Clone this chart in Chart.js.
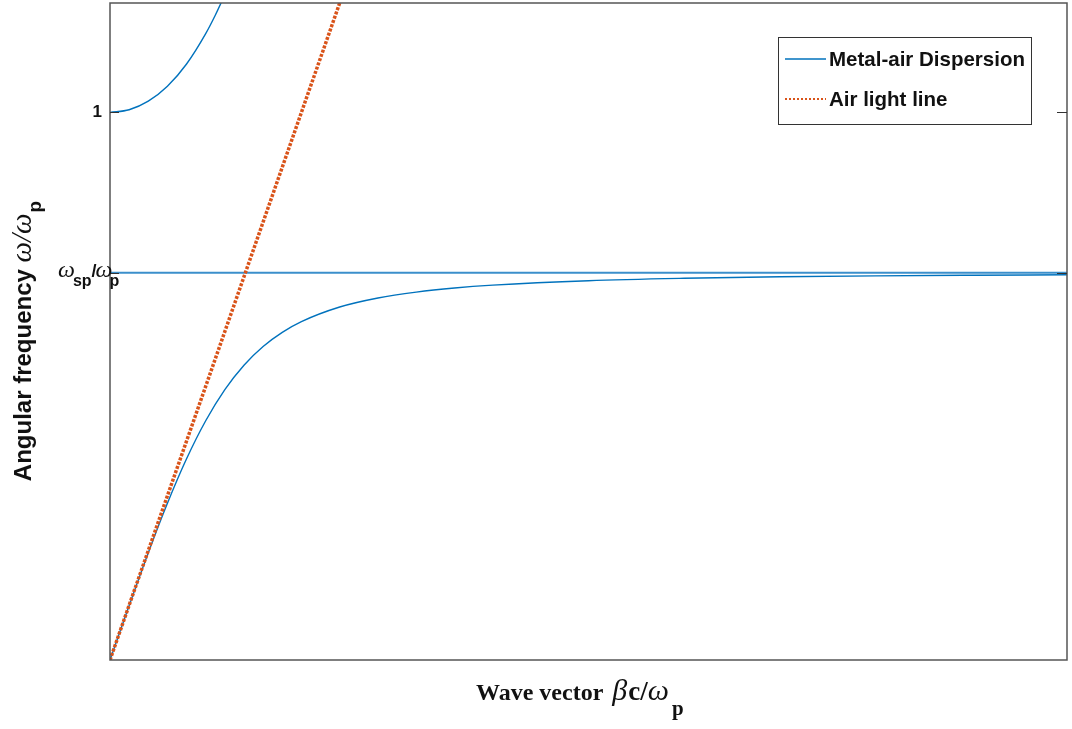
<!DOCTYPE html>
<html lang="en">
<head>
    <meta charset="UTF-8">
    <title>Metal-air surface plasmon dispersion</title>
    <script src="https://cdn.jsdelivr.net/npm/chart.js"></script>
    <style>
        html, body { margin: 0; padding: 0; background: #fff; }
        canvas { display: block; }
    </style>
</head>
<body>
    <canvas id="dispChart" width="1072" height="729"></canvas>
    <script>
        // wave vector (beta c / omega_p) and frequency (omega / omega_p)
        const lowerBeta = [0, 0.1, 0.2, 0.3, 0.4, 0.5, 0.6, 0.7, 0.8, 0.9, 1.0, 1.2, 1.4, 1.6, 1.8, 2.0, 2.5, 3.0, 3.5, 4.0, 4.5, 5.0];
        const lowerOmega = [0, 0.0995, 0.196, 0.2863, 0.3675, 0.437, 0.4939, 0.5385, 0.5726, 0.5984, 0.618, 0.6447, 0.6612, 0.672, 0.6795, 0.6847, 0.6928, 0.6972, 0.6999, 0.7016, 0.7027, 0.7036];
        const upperBeta = [0, 0.1, 0.2, 0.3, 0.4, 0.5, 0.55, 0.6];
        const upperOmega = [1.0, 1.005, 1.0206, 1.0479, 1.0886, 1.1441, 1.1777, 1.215];
        const spBeta = [0, 5];
        const spOmega = [0.7071, 0.7071];
        const lightBeta = [0, 1.2];
        const lightOmega = [0, 1.2];

        const yTicks = [0.7071, 1];
        const legendLabels = ['Metal-air Dispersion', 'Air light line'];

        const BLUE = '#0072BD';
        const ORANGE = '#D95319';
        const pts = (xs, ys) => xs.map((x, i) => ({ x: x, y: ys[i] }));

        // draws a row of text pieces with their own fonts and vertical offsets
        function richText(ctx, x, y, parts) {
            let cx = x;
            parts.forEach(p => {
                ctx.font = p.font;
                ctx.fillText(p.t, cx, y + (p.dy || 0));
                cx += ctx.measureText(p.t).width + (p.gap || 0);
            });
            return cx;
        }
        function richWidth(ctx, parts) {
            let w = 0;
            parts.forEach(p => { ctx.font = p.font; w += ctx.measureText(p.t).width + (p.gap || 0); });
            return w;
        }

        const decor = {
            id: 'decor',
            afterDatasetsDraw(chart) {
                const ctx = chart.ctx;
                const a = chart.chartArea;
                const ys = chart.scales.y;
                ctx.save();

                // frame
                ctx.strokeStyle = '#555';
                ctx.lineWidth = 1.5;
                ctx.strokeRect(a.left, a.top, a.right - a.left, a.bottom - a.top);

                // tick marks
                ctx.lineWidth = 1;
                ctx.strokeStyle = '#333';
                yTicks.forEach(v => {
                    const py = Math.round(ys.getPixelForValue(v)) + 0.5;
                    ctx.beginPath();
                    ctx.moveTo(a.left, py); ctx.lineTo(a.left + 9, py);
                    ctx.moveTo(a.right - 10, py); ctx.lineTo(a.right, py);
                    ctx.stroke();
                });

                // tick labels
                ctx.fillStyle = '#111';
                ctx.textBaseline = 'middle';
                ctx.textAlign = 'right';
                ctx.font = 'bold 17px "Liberation Sans", Arial, sans-serif';
                ctx.fillText('1', a.left - 8, ys.getPixelForValue(1));
                ctx.textAlign = 'left';
                const spY = ys.getPixelForValue(yTicks[0]);
                richText(ctx, 58, spY - 2, [
                    { t: 'ω', font: 'italic 24px "Liberation Serif", serif', gap: -2 },
                    { t: 'sp', font: 'bold 16px "Liberation Sans", sans-serif', dy: 11 },
                    { t: '/', font: 'bold 18px "Liberation Sans", sans-serif', dy: 1, gap: -1 },
                    { t: 'ω', font: 'italic 24px "Liberation Serif", serif', gap: -3 },
                    { t: 'p', font: 'bold 16px "Liberation Sans", sans-serif', dy: 11 }
                ]);

                // x axis title
                ctx.textBaseline = 'alphabetic';
                const xParts = [
                    { t: 'Wave vector ', font: 'bold 24px "Liberation Serif", serif', gap: 3 },
                    { t: 'β', font: 'italic 30px "Liberation Serif", serif', gap: 1 },
                    { t: 'c/', font: 'bold 27px "Liberation Serif", serif' },
                    { t: 'ω', font: 'italic 30px "Liberation Serif", serif', gap: 3 },
                    { t: 'p', font: 'bold 21px "Liberation Serif", serif', dy: 15 }
                ];
                richText(ctx, 476, 700, xParts);

                // y axis title
                const yParts = [
                    { t: 'Angular frequency ', font: 'bold 24px "Liberation Sans", Arial, sans-serif' },
                    { t: 'ω/ω', font: 'italic 29px "Liberation Serif", serif', gap: 1 },
                    { t: 'p', font: 'bold 19px "Liberation Sans", sans-serif', dy: 10 }
                ];
                const yw = richWidth(ctx, yParts);
                ctx.save();
                ctx.translate(31, 341);
                ctx.rotate(-Math.PI / 2);
                richText(ctx, -yw / 2, 0, yParts);
                ctx.restore();

                // legend
                ctx.fillStyle = '#fff';
                ctx.fillRect(778, 37, 253, 87);
                ctx.strokeStyle = '#333';
                ctx.lineWidth = 1;
                ctx.strokeRect(778.5, 37.5, 253, 87);
                ctx.textBaseline = 'middle';
                ctx.font = 'bold 20.5px "Liberation Sans", Arial, sans-serif';
                ctx.fillStyle = '#111';

                ctx.strokeStyle = BLUE;
                ctx.lineWidth = 1.3;
                ctx.beginPath(); ctx.moveTo(785, 59); ctx.lineTo(826, 59); ctx.stroke();
                ctx.fillText(legendLabels[0], 829, 60);

                ctx.strokeStyle = ORANGE;
                ctx.lineWidth = 2;
                ctx.setLineDash([2, 2]);
                ctx.beginPath(); ctx.moveTo(785, 99); ctx.lineTo(826, 99); ctx.stroke();
                ctx.setLineDash([]);
                ctx.fillText(legendLabels[1], 829, 100);

                ctx.restore();
            }
        };

        new Chart(document.getElementById('dispChart'), {
            type: 'line',
            data: {
                datasets: [
                    {
                        label: legendLabels[1],
                        data: pts(lightBeta, lightOmega),
                        borderColor: ORANGE,
                        borderWidth: 3.5,
                        borderDash: [3, 1.5],
                        pointRadius: 0,
                        clip: 0
                    },
                    {
                        label: legendLabels[0],
                        data: pts(lowerBeta, lowerOmega),
                        borderColor: BLUE,
                        borderWidth: 1.4,
                        cubicInterpolationMode: 'monotone',
                        pointRadius: 0,
                        clip: 0
                    },
                    {
                        label: 'upper',
                        data: pts(upperBeta, upperOmega),
                        borderColor: BLUE,
                        borderWidth: 1.4,
                        cubicInterpolationMode: 'monotone',
                        pointRadius: 0,
                        clip: 0
                    },
                    {
                        label: 'sp',
                        data: pts(spBeta, spOmega),
                        borderColor: '#3b8fcb',
                        borderWidth: 2,
                        pointRadius: 0,
                        clip: 0
                    }
                ]
            },
            options: {
                responsive: false,
                animation: false,
                devicePixelRatio: 1,
                layout: { padding: { left: 110, right: 5, top: 3, bottom: 69 } },
                scales: {
                    x: { type: 'linear', min: 0, max: 5, display: false },
                    y: { type: 'linear', min: 0, max: 1.2, display: false }
                },
                plugins: {
                    legend: { display: false },
                    tooltip: { enabled: false }
                }
            },
            plugins: [decor]
        });
    </script>
</body>
</html>
